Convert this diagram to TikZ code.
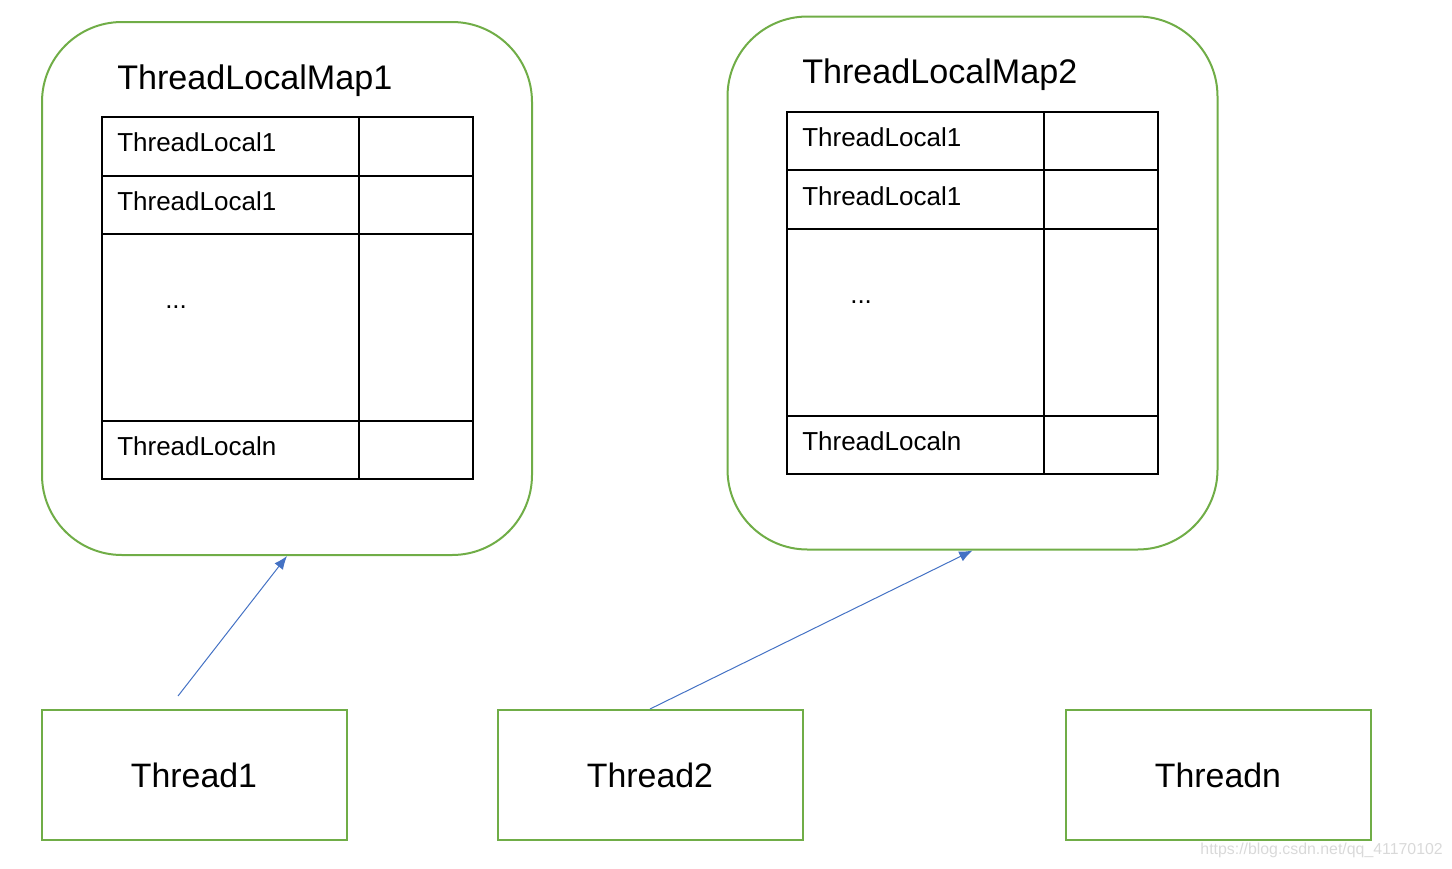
\documentclass[tikz,border=0pt]{standalone}
\usepackage{fontspec}
\setmainfont{Liberation Sans}
\usetikzlibrary{arrows.meta}
\definecolor{grn}{HTML}{70AD47}
\definecolor{blu}{HTML}{4472C4}
\definecolor{wm}{HTML}{D9D9D9}
\tikzset{
  mapbox/.style={draw=grn, line width=1.5pt, rounded corners=60pt, minimum width=367.5pt, minimum height=399.75pt, inner sep=0pt},
  thrbox/.style={draw=grn, line width=1.5pt, minimum width=228.75pt, minimum height=97.5pt, inner sep=0pt, font=\fontsize{25.4pt}{30pt}\selectfont},
  tbl/.style={draw=black, line width=1.3pt},
  celltext/.style={anchor=west, inner sep=0pt, font=\fontsize{19.5pt}{23pt}\selectfont},
  maptitle/.style={anchor=base west, inner sep=0pt, font=\fontsize{25.6pt}{30pt}\selectfont},
  link/.style={draw=blu, line width=0.75pt, -{Latex[length=10pt,width=8pt]}}
}
\begin{document}
\begin{tikzpicture}[x=0.75pt,y=-0.75pt]
\useasboundingbox (0,0) rectangle (1452,868);
% maps
\node[mapbox] (map1) at (287,288.5) {};
\node[mapbox] (map2) at (972.5,283) {};
\node[maptitle] (t1) at (117,89) {ThreadLocalMap1};
\node[maptitle] (t2) at (802,83) {ThreadLocalMap2};
% table 1
\draw[tbl] (102,117) rectangle (473,479);
\draw[tbl] (102,176) -- (473,176) (102,234) -- (473,234) (102,421) -- (473,421) (359,117) -- (359,479);
\node[celltext] (c11) at (117,142.5) {ThreadLocal1};
\node[celltext] (c12) at (117,201) {ThreadLocal1};
\node[celltext] (c13) at (165,307) {...};
\node[celltext] (c14) at (117,446) {ThreadLocaln};
% table 2
\draw[tbl] (787,112) rectangle (1158,474);
\draw[tbl] (787,170) -- (1158,170) (787,229) -- (1158,229) (787,416) -- (1158,416) (1044,112) -- (1044,474);
\node[celltext] (c21) at (802,137.5) {ThreadLocal1};
\node[celltext] (c22) at (802,196) {ThreadLocal1};
\node[celltext] (c23) at (850,302) {...};
\node[celltext] (c24) at (802,441) {ThreadLocaln};
% threads
\node[thrbox] (th1) at (194,775) {Thread1};
\node[thrbox] (th2) at (650,775) {Thread2};
\node[thrbox] (thn) at (1218,775) {Threadn};
% links
\coordinate (s1) at (178,696);
\draw[link] (s1) -- (map1.south);
\draw[link] (th2.north) -- (map2.south);
% watermark
\node[anchor=east, inner sep=0pt, text=wm, font=\fontsize{11.9pt}{14pt}\selectfont] (wmk) at (1443,850) {https://blog.csdn.net/qq\_41170102};
\end{tikzpicture}
\end{document}
